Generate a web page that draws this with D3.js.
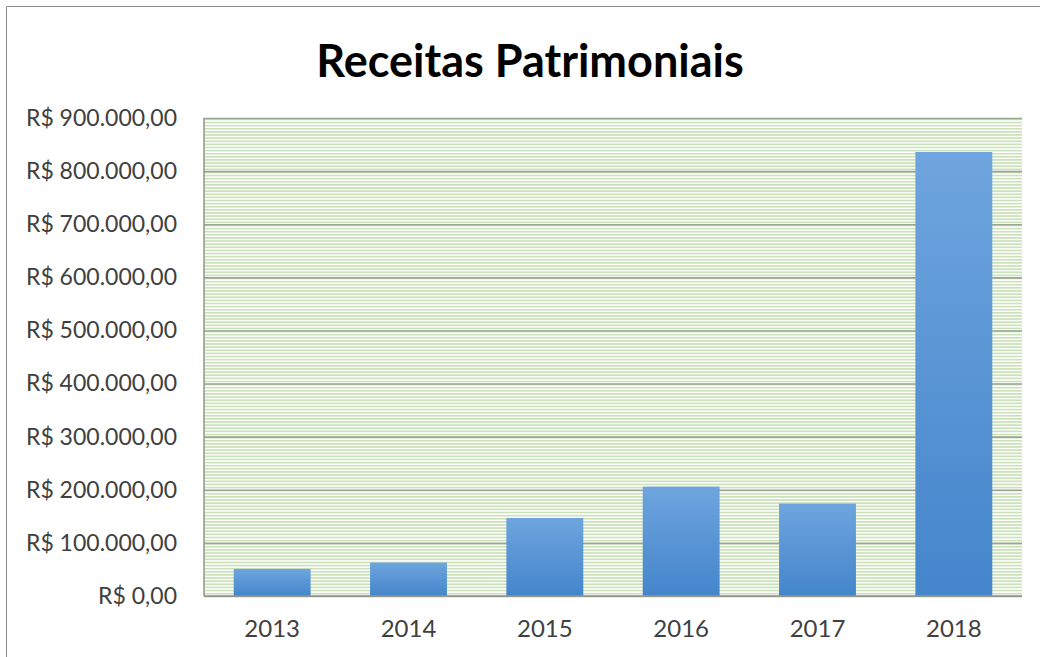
<!DOCTYPE html>
<html><head><meta charset="utf-8">
<script src="https://cdn.jsdelivr.net/npm/d3@7/dist/d3.min.js"></script>
<style>body{margin:0;background:#fff;}svg{display:block;}</style>
</head><body>
<svg id="c" width="1040" height="657"></svg>
<script>
const categories = ["2013","2014","2015","2016","2017","2018"];
const values = [51000, 63000, 147000, 206000, 174000, 836000];
const yTicks = [0,100000,200000,300000,400000,500000,600000,700000,800000,900000];
const title = "Receitas Patrimoniais";

const svg = d3.select("#c");
const m = {l:204, r:1022, t:118, b:596};
const defs = svg.append("defs");
const pat = defs.append("pattern").attr("id","stripes").attr("patternUnits","userSpaceOnUse")
  .attr("width",8).attr("height",3.12);
pat.append("rect").attr("width",8).attr("height",3.12).attr("fill","#ffffff");
pat.append("rect").attr("width",8).attr("height",1.7).attr("fill","#cbe1ba");
const grad = defs.append("linearGradient").attr("id","bar").attr("x1",0).attr("y1",0).attr("x2",0).attr("y2",1);
grad.append("stop").attr("offset","0%").attr("stop-color","#6ea5de");
grad.append("stop").attr("offset","100%").attr("stop-color","#4485cb");

// outer border
svg.append("path").attr("d","M6.5,657 L6.5,6.5 L1040,6.5").attr("fill","none").attr("stroke","#8c8c8c").attr("stroke-width",1);

svg.append("text").attr("x",530).attr("y",77).attr("text-anchor","middle")
  .attr("font-family","Lato, 'Open Sans', sans-serif").attr("font-weight","bold").attr("font-size",45)
  .attr("fill","#000").text(title);

const x = d3.scaleBand().domain(categories).range([m.l,m.r]).paddingInner(0.436).paddingOuter(0.218);
const y = d3.scaleLinear().domain([0,900000]).range([m.b,m.t]);

svg.append("rect").attr("x",m.l).attr("y",m.t).attr("width",m.r-m.l).attr("height",m.b-m.t).attr("fill","url(#stripes)");

const fmt = v => "R$ " + (v===0 ? "0,00" : d3.format(",")(v).replace(/,/g,".") + ",00");

const yAxis = svg.append("g").attr("transform",`translate(${m.l},0)`)
  .call(d3.axisLeft(y).tickValues(yTicks).tickFormat(fmt).tickSize(-(m.r-m.l)).tickPadding(27));
yAxis.select(".domain").remove();
yAxis.selectAll(".tick line").attr("stroke","#9aa592").attr("stroke-width",1.6);
yAxis.selectAll(".tick text").attr("font-family","Lato, sans-serif").attr("font-size",23).attr("fill","#404040");

svg.selectAll("rect.bar").data(values).join("rect").attr("class","bar")
  .attr("x",(d,i)=>x(categories[i])).attr("width",x.bandwidth())
  .attr("y",d=>y(d)).attr("height",d=>y(0)-y(d)).attr("fill","url(#bar)");

// axes lines
svg.append("line").attr("x1",m.l).attr("x2",m.l).attr("y1",m.t).attr("y2",m.b).attr("stroke","#8f968a").attr("stroke-width",1.5);
svg.append("line").attr("x1",m.l).attr("x2",m.r).attr("y1",m.b).attr("y2",m.b).attr("stroke","#8f968a").attr("stroke-width",1.5);

const xAxis = svg.append("g").attr("transform",`translate(0,${m.b})`)
  .call(d3.axisBottom(x).tickSize(0).tickPadding(24));
xAxis.select(".domain").remove();
xAxis.selectAll(".tick text").attr("font-family","Lato, sans-serif").attr("font-size",24).attr("fill","#404040");
</script>
</body></html>
